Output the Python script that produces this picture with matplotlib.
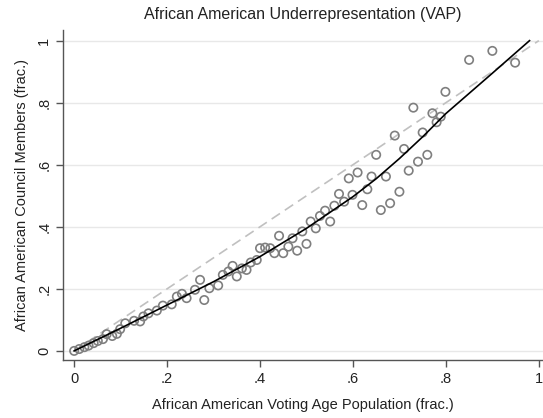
import matplotlib
matplotlib.use("Agg")
import matplotlib.pyplot as plt

# scatter: share of voting age population vs share of council seats
vap = [0, 0.011, 0.022, 0.031, 0.042, 0.051, 0.062, 0.070, 0.082, 0.092,
       0.099, 0.110, 0.129, 0.142, 0.149, 0.160, 0.178, 0.191, 0.210, 0.221,
       0.232, 0.242, 0.260, 0.271, 0.280, 0.291, 0.310, 0.320, 0.332, 0.341,
       0.350, 0.361, 0.371, 0.380, 0.393, 0.400, 0.411, 0.422, 0.431, 0.441,
       0.450, 0.461, 0.470, 0.480, 0.491, 0.500, 0.509, 0.520, 0.529, 0.540,
       0.551, 0.560, 0.570, 0.581, 0.591, 0.599, 0.610, 0.620, 0.631, 0.640,
       0.650, 0.660, 0.671, 0.680, 0.690, 0.700, 0.710, 0.720, 0.730, 0.740,
       0.750, 0.760, 0.771, 0.780, 0.789, 0.799, 0.850, 0.900, 0.949]
council = [0, 0.006, 0.012, 0.017, 0.025, 0.032, 0.038, 0.054, 0.048, 0.055,
           0.070, 0.089, 0.097, 0.095, 0.111, 0.121, 0.130, 0.146, 0.150, 0.175,
           0.184, 0.170, 0.197, 0.229, 0.164, 0.202, 0.211, 0.245, 0.256, 0.274,
           0.240, 0.266, 0.261, 0.285, 0.293, 0.331, 0.333, 0.331, 0.315, 0.371,
           0.315, 0.336, 0.363, 0.323, 0.385, 0.345, 0.417, 0.395, 0.435, 0.452,
           0.417, 0.468, 0.506, 0.481, 0.556, 0.503, 0.575, 0.470, 0.521, 0.562,
           0.632, 0.454, 0.562, 0.476, 0.694, 0.513, 0.651, 0.581, 0.784, 0.610,
           0.704, 0.632, 0.766, 0.737, 0.755, 0.835, 0.938, 0.967, 0.929]

# fitted curve
fit_x = [0, 0.1, 0.2, 0.3, 0.4, 0.5, 0.6, 0.65, 0.7, 0.75, 0.8, 0.85, 0.9, 0.98]
fit_y = [0, 0.073, 0.148, 0.223, 0.304, 0.395, 0.497, 0.555, 0.62, 0.69, 0.765, 0.83, 0.895, 1.0]

# equal representation line
eq_x = [0, 1]
eq_y = [0, 1]

ticks = [0, 0.2, 0.4, 0.6, 0.8, 1]
tick_labels = ["0", ".2", ".4", ".6", ".8", "1"]

plt.rcParams["font.family"] = ["Liberation Sans", "DejaVu Sans"]

fig = plt.figure(figsize=(5.43, 4.18), dpi=100)
ax = fig.add_axes([0.116, 0.139, 0.884, 0.789])

for t in ticks:
    ax.axhline(t, color="#e8e8e8", lw=1.0, zorder=0)

ax.plot(eq_x, eq_y, color="#c0c0c0", lw=1.2, dashes=(6, 3.5), zorder=1)
ax.scatter(vap, council, s=36, facecolors="none", edgecolors="#7f7f7f",
           linewidths=1.2, zorder=2)
ax.plot(fit_x, fit_y, color="black", lw=1.2, zorder=3)

ax.set_xlim(-0.024, 1.009)
ax.set_ylim(-0.029, 1.034)
ax.set_xticks(ticks)
ax.set_xticklabels(tick_labels)
ax.set_yticks(ticks)
ax.set_yticklabels(tick_labels, rotation=90, va="center")

for s in ["top", "right"]:
    ax.spines[s].set_visible(False)
for s in ["left", "bottom"]:
    ax.spines[s].set_color("#555555")
    ax.spines[s].set_linewidth(1.0)
ax.tick_params(direction="out", length=5, width=1, color="#555555",
               labelsize=10.5, labelcolor="#222222")

ax.set_title("African American Underrepresentation (VAP)", fontsize=11.5,
             color="#222222", pad=8)
ax.set_xlabel("African American Voting Age Population (frac.)", fontsize=10.5,
              color="#222222", labelpad=9)
ax.set_ylabel("African American Council Members (frac.)", fontsize=10.5,
              color="#222222", labelpad=6)

fig.savefig("out.png", dpi=100)
